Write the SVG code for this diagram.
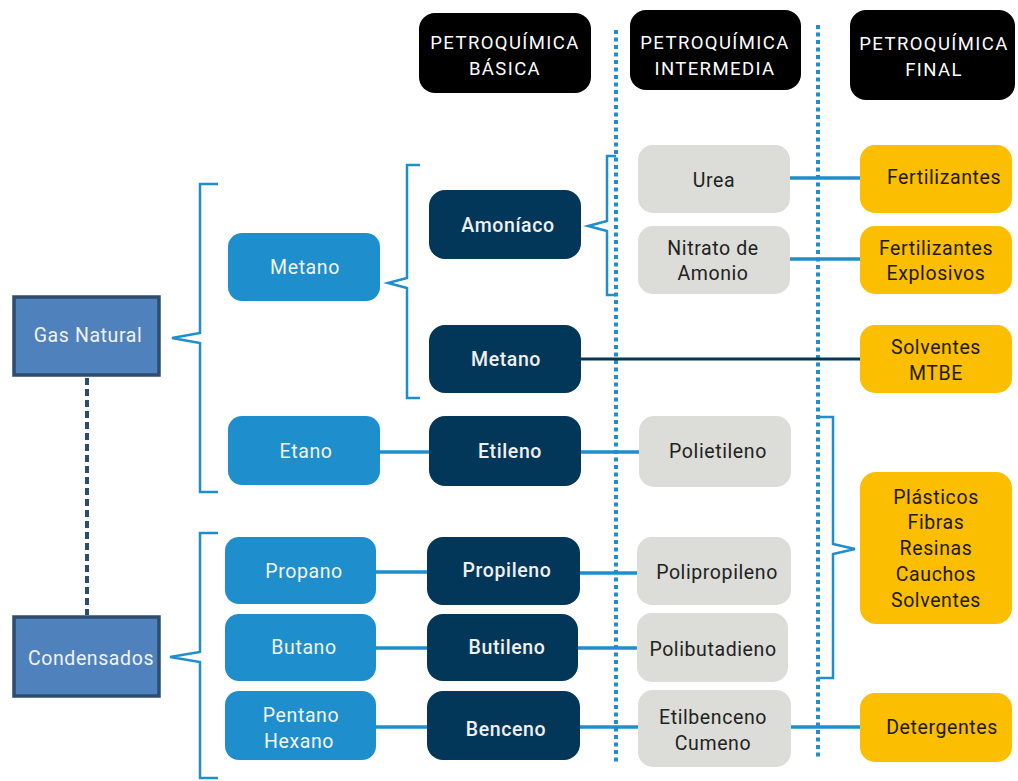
<svg xmlns="http://www.w3.org/2000/svg" width="1018" height="781" viewBox="0 0 1018 781">
<style>
text{font-family:Roboto,"Liberation Sans",sans-serif;font-size:19.5px;letter-spacing:0.6px;text-anchor:middle;dominant-baseline:central}
.hdr rect{fill:#000}
.hdr text{fill:#fff;font-size:18.5px;letter-spacing:1.4px}
.src rect{fill:#4f81bd;stroke:#2c4d70;stroke-width:3.5}
.src text{fill:#f2f2f2}
.blue rect{fill:#1e8fcc}
.blue text{fill:#f4f4f4}
.dark rect{fill:#03375a}
.dark text{fill:#f0f0f0;font-weight:500}
.gray rect{fill:#dcdcd8}
.gray text{fill:#222}
.yel rect{fill:#fbbe00}
.yel text{fill:#221a00}
.br{fill:none;stroke:#1e8fcc;stroke-width:2.5;stroke-linejoin:miter}
.ln{stroke:#1e8fcc;stroke-width:3.5}
.dot{stroke:#1e8fcc;stroke-width:4;stroke-dasharray:4 3.5}
</style>
<g id="dividers">
<line class="dot" x1="616" y1="30" x2="616" y2="762"/>
<line class="dot" x1="818" y1="25" x2="818" y2="760"/>
</g>
<g id="connectors">
<line x1="87" y1="378" x2="87" y2="615" stroke="#2c4d70" stroke-width="4" stroke-dasharray="7 4"/>
<path class="br" d="M218,184 H200 V333 L172,338 L200,343 V492 H218"/>
<path class="br" d="M218,533 H200 V652 L170,657 L200,662 V778 H218"/>
<path class="br" d="M420,165 H407 V278 L388,283 L407,288 V398 H420"/>
<path class="br" d="M616,156 H607 V221 L588,226 L607,231 V295 H616"/>
<path class="br" d="M817,417 H833 V544 L855,549 L833,554 V678 H817"/>
<line class="ln" x1="380" y1="452" x2="429" y2="452"/>
<line class="ln" x1="376" y1="572" x2="427" y2="572"/>
<line class="ln" x1="376" y1="648" x2="427" y2="648"/>
<line class="ln" x1="376" y1="727" x2="427" y2="727"/>
<line class="ln" x1="581" y1="452" x2="639" y2="452"/>
<line class="ln" x1="580" y1="573" x2="637" y2="573"/>
<line class="ln" x1="578" y1="648" x2="637" y2="648"/>
<line class="ln" x1="580" y1="727" x2="638" y2="727"/>
<line class="ln" x1="790" y1="178" x2="860" y2="178"/>
<line class="ln" x1="790" y1="259" x2="860" y2="259"/>
<line class="ln" x1="791" y1="727" x2="860" y2="727"/>
<line x1="581" y1="359" x2="860" y2="359" stroke="#03375a" stroke-width="3"/>
</g>
<g id="h1" class="hdr"><rect x="419" y="13" width="172" height="80" rx="16"/><text x="505" y="43">PETROQUÍMICA</text><text x="505" y="69">BÁSICA</text></g>
<g id="h2" class="hdr"><rect x="630" y="10" width="171" height="80" rx="16"/><text x="715" y="43">PETROQUÍMICA</text><text x="715" y="69">INTERMEDIA</text></g>
<g id="h3" class="hdr"><rect x="850" y="10" width="165" height="90" rx="16"/><text x="934" y="44">PETROQUÍMICA</text><text x="934" y="70">FINAL</text></g>
<g id="gas" class="src"><rect x="14" y="297" width="145" height="78"/><text x="88" y="335">Gas Natural</text></g>
<g id="cond" class="src"><rect x="14" y="617" width="145" height="79"/><text x="91" y="658">Condensados</text></g>
<g id="metano1" class="blue"><rect x="228" y="233" width="152" height="68" rx="14"/><text x="305" y="267">Metano</text></g>
<g id="etano" class="blue"><rect x="228" y="416" width="152" height="69" rx="14"/><text x="306" y="451">Etano</text></g>
<g id="propano" class="blue"><rect x="225" y="537" width="151" height="67" rx="14"/><text x="304" y="571">Propano</text></g>
<g id="butano" class="blue"><rect x="225" y="614" width="151" height="67" rx="14"/><text x="304" y="647">Butano</text></g>
<g id="pentano" class="blue"><rect x="225" y="691" width="151" height="69" rx="14"/><text x="301" y="715">Pentano</text><text x="299" y="741">Hexano</text></g>
<g id="amoniaco" class="dark"><rect x="429" y="190" width="152" height="69" rx="16"/><text x="508" y="225">Amoníaco</text></g>
<g id="metano2" class="dark"><rect x="429" y="325" width="152" height="68" rx="16"/><text x="506" y="359">Metano</text></g>
<g id="etileno" class="dark"><rect x="429" y="416" width="152" height="70" rx="16"/><text x="510" y="451">Etileno</text></g>
<g id="propileno" class="dark"><rect x="427" y="537" width="153" height="68" rx="16"/><text x="507" y="570">Propileno</text></g>
<g id="butileno" class="dark"><rect x="427" y="614" width="151" height="67" rx="16"/><text x="507" y="647">Butileno</text></g>
<g id="benceno" class="dark"><rect x="427" y="691" width="153" height="69" rx="16"/><text x="506" y="729">Benceno</text></g>
<g id="urea" class="gray"><rect x="638" y="145" width="152" height="68" rx="15"/><text x="714" y="180">Urea</text></g>
<g id="nitrato" class="gray"><rect x="638" y="226" width="152" height="68" rx="15"/><text x="713" y="248">Nitrato de</text><text x="713" y="273">Amonio</text></g>
<g id="polietileno" class="gray"><rect x="639" y="416" width="152" height="71" rx="15"/><text x="718" y="451">Polietileno</text></g>
<g id="polipropileno" class="gray"><rect x="637" y="537" width="154" height="68" rx="15"/><text x="717" y="572">Polipropileno</text></g>
<g id="polibutadieno" class="gray"><rect x="637" y="613" width="151" height="69" rx="15"/><text x="713" y="649">Polibutadieno</text></g>
<g id="etilbenceno" class="gray"><rect x="638" y="690" width="153" height="77" rx="15"/><text x="713" y="717">Etilbenceno</text><text x="713" y="743">Cumeno</text></g>
<g id="fert" class="yel"><rect x="860" y="145" width="152" height="68" rx="15"/><text x="944" y="177">Fertilizantes</text></g>
<g id="fertexp" class="yel"><rect x="860" y="226" width="152" height="68" rx="15"/><text x="936" y="248">Fertilizantes</text><text x="936" y="273">Explosivos</text></g>
<g id="solventes" class="yel"><rect x="860" y="325" width="152" height="68" rx="15"/><text x="936" y="347">Solventes</text><text x="936" y="373">MTBE</text></g>
<g id="plasticos" class="yel"><rect x="860" y="472" width="152" height="152" rx="16"/><text x="936" y="497">Plásticos</text><text x="936" y="522">Fibras</text><text x="936" y="548">Resinas</text><text x="936" y="574">Cauchos</text><text x="936" y="600">Solventes</text></g>
<g id="detergentes" class="yel"><rect x="860" y="693" width="152" height="69" rx="15"/><text x="942" y="727">Detergentes</text></g>
</svg>
